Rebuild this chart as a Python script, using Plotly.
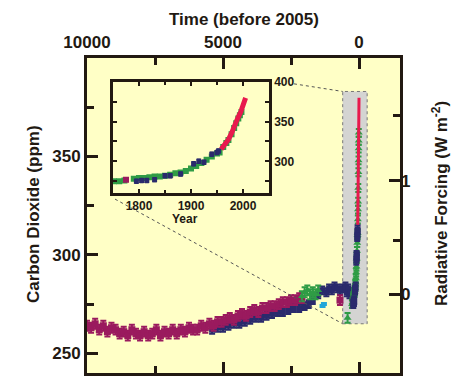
import math
import plotly.graph_objects as go

# ---------------- data ----------------
# Main panel: CO2 (ppm) against years before 2005
magenta_bp = [10000, 9850, 9700, 9550, 9400, 9250, 9100, 8950, 8800, 8650, 8500, 8350,
              8200, 8050, 7900, 7750, 7600, 7450, 7300, 7150, 7000, 6850, 6700, 6550,
              6400, 6250, 6100, 5950, 5800, 5650, 5500, 5350, 5200, 5050, 4900, 4750,
              4600, 4450, 4300, 4150, 4000, 3850, 3700, 3550, 3400, 3250, 3100, 2950,
              2800, 2650, 2500, 2350, 2200, 2100, 700]
magenta_ppm = [264, 263, 265, 262, 264, 261, 263, 262, 260, 261, 259, 262,
               260, 259, 261, 259, 260, 262, 259, 261, 260, 262, 260, 262,
               261, 263, 262, 262, 264, 263, 265, 264, 266, 266, 267, 268,
               267, 269, 270, 269, 271, 272, 271, 273, 273, 274, 274, 275,
               276, 276, 277, 277, 278, 278, 277]

navy_bp = [5400, 5200, 5000, 4800, 4600, 4400, 4200, 4000, 3800, 3600, 3400, 3200,
           3000, 2800, 2600, 2400, 2200, 2000, 1850, 1700, 1500, 1350, 1200, 1100,
           1000, 900, 800, 700, 600, 500, 450, 400, 350, 300, 260]
navy_ppm = [262, 263, 263, 264, 265, 265, 266, 267, 268, 268, 269, 270,
            271, 271, 272, 273, 273, 274, 275, 277, 280, 282, 281, 283,
            282, 284, 283, 282, 283, 284, 281, 283, 280, 281, 279]

green_bp = [2100, 2000, 1900, 1800, 1700, 1600, 1500, 420]
green_ppm = [279, 281, 282, 280, 281, 280, 282, 268]

cyan_bp = [1340, 1290]
cyan_ppm = [274, 275]

# Recent record in calendar years (inset, and the spike of the main panel)
lawdome_year = [1752, 1762, 1772, 1790, 1800, 1810, 1820, 1830, 1840, 1850, 1860, 1870,
                1880, 1890, 1900, 1910, 1920, 1930, 1940, 1950, 1955, 1962, 1968, 1972,
                1978, 1983, 1987, 1991, 1994, 1997]
lawdome_ppm = [275, 275, 276, 278, 279, 279, 280, 281, 281, 282, 283, 285,
               286, 288, 291, 294, 298, 302, 306, 310, 311, 318, 323, 327,
               334, 342, 348, 354, 358, 362]

siple_year = [1795, 1805, 1815, 1830, 1850, 1860, 1880, 1905, 1915, 1925, 1940, 1950, 1953]
siple_ppm = [275, 276, 276, 277, 282, 282, 284, 297, 300, 299, 309, 311, 313]

pink_year = [1775]
pink_ppm = [277]

mlo_year = [1958, 1960, 1962, 1964, 1966, 1968, 1970, 1972, 1974, 1976, 1978, 1980,
            1982, 1984, 1986, 1988, 1990, 1992, 1994, 1996, 1998, 2000, 2002, 2004, 2005]
mlo_ppm = [315.3, 316.9, 318.4, 319.6, 321.4, 323.0, 325.7, 327.5, 330.2, 332.1, 335.4, 338.7,
           341.1, 344.4, 347.2, 351.5, 354.4, 356.4, 358.8, 362.6, 366.7, 369.5, 373.2, 377.5, 379.8]

REF_YEAR = 2005
x_ticks_main = [10000, 5000, 0]
y_ticks_main = [250, 300, 350]
rf_major = [0, 1]
rf_minor = [0.5, 1.5]
rf_c0 = 280.0
inset_x_major = [1800, 1900, 2000]
inset_x_minor = [1850, 1950]
inset_y_major = [300, 350, 400]
inset_y_minor = [275, 325, 375]

# ---------------- style ----------------
FONT = "Liberation Sans, Arial, sans-serif"
INK = "#221912"
YELLOW = "#FFFFC6"
GRAY_IN = "#D5D3CC"
GRAY_BOX = "#D4D4D2"
C_MAG = "#9A1A5E"
C_NAVY = "#2A2A6C"
C_GREEN = "#2F9C45"
C_RED = "#E8194D"
C_CYAN = "#23A6D8"

W, H = 476, 388
L, R, T, B = 87, 76, 58, 13
XR = [10000, -1507]
YR = [240, 400]


def bp(years):
    return [REF_YEAR - y for y in years]


def pxx(px):  # pixel x -> paper x
    return (px - L) / (W - L - R)


def pxy(py):  # pixel y -> paper y
    return (H - B - py) / (H - T - B)


def px_to_bp(px):
    return XR[0] + (px - L) / (W - L - R) * (XR[1] - XR[0])


def py_to_ppm(py):
    return YR[1] - (py - T) / (H - T - B) * (YR[1] - YR[0])


fig = go.Figure()


def main_markers(x, y, color, symbol, size, err):
    fig.add_trace(go.Scatter(
        x=x, y=y, mode="markers", xaxis="x", yaxis="y",
        marker=dict(color=color, symbol=symbol, size=size, line=dict(width=0)),
        error_y=dict(type="constant", value=err, color=color, thickness=2, width=3),
        hoverinfo="skip"))


main_markers(cyan_bp, cyan_ppm, C_CYAN, "circle", 4, 0.5)
main_markers(navy_bp, navy_ppm, C_NAVY, "square", 6, 2)
main_markers(magenta_bp, magenta_ppm, C_MAG, "square", 7, 2.5)
main_markers(bp(pink_year), pink_ppm, C_MAG, "square", 5, 1)
main_markers(green_bp, green_ppm, C_GREEN, "triangle-up", 7, 2.5)
main_markers(bp(lawdome_year), lawdome_ppm, C_GREEN, "triangle-up", 7, 2)
main_markers(bp(siple_year), siple_ppm, C_NAVY, "square", 6, 2)
fig.add_trace(go.Scatter(x=bp(mlo_year), y=mlo_ppm, mode="lines", xaxis="x", yaxis="y",
                         line=dict(color=C_RED, width=3), hoverinfo="skip"))

# dummy trace to create the right radiative-forcing axis
fig.add_trace(go.Scatter(x=[None], y=[None], xaxis="x", yaxis="y2", showlegend=False))


def inset_markers(x, y, color, symbol, size, err):
    fig.add_trace(go.Scatter(
        x=x, y=y, mode="markers", xaxis="x3", yaxis="y3",
        marker=dict(color=color, symbol=symbol, size=size, line=dict(width=0)),
        error_y=dict(type="constant", value=err, color=color, thickness=1.5, width=2,
                     visible=err > 0),
        hoverinfo="skip"))


inset_markers(lawdome_year, lawdome_ppm, C_GREEN, "square", 6, 0)
inset_markers(siple_year, siple_ppm, C_NAVY, "square", 5, 2.5)
inset_markers(pink_year, pink_ppm, C_MAG, "square", 6, 0)
fig.add_trace(go.Scatter(x=mlo_year, y=mlo_ppm, mode="lines", xaxis="x3", yaxis="y3",
                         line=dict(color=C_RED, width=5), hoverinfo="skip"))

tickfont = dict(family=FONT, size=17, color=INK, weight="bold")
smallfont = dict(family=FONT, size=12, color=INK, weight="bold")

rf_major_ppm = [rf_c0 * math.exp(r / 5.35) for r in rf_major]
rf_minor_ppm = [rf_c0 * math.exp(r / 5.35) for r in rf_minor]

inset_dom_x = [pxx(113), pxx(269)]
inset_dom_y = [pxy(194), pxy(82)]

fig.update_layout(
    width=W, height=H,
    margin=dict(l=L, r=R, t=T, b=B),
    paper_bgcolor="white", plot_bgcolor=YELLOW,
    showlegend=False,
    xaxis=dict(domain=[0, 1], anchor="y", range=XR, side="top",
               tickmode="array", tickvals=x_ticks_main, ticktext=[str(v) for v in x_ticks_main],
               ticks="inside", ticklen=11, tickwidth=3, tickcolor=INK,
               minor=dict(dtick=2500, tick0=0, ticks="inside", ticklen=7, tickwidth=3, tickcolor=INK),
               showline=True, linewidth=3, linecolor=INK, mirror="ticks",
               showgrid=False, zeroline=False, tickfont=tickfont),
    yaxis=dict(domain=[0, 1], anchor="x", range=YR,
               tickmode="array", tickvals=y_ticks_main, ticktext=[str(v) for v in y_ticks_main],
               ticks="inside", ticklen=11, tickwidth=3, tickcolor=INK,
               minor=dict(dtick=25, tick0=250, ticks="inside", ticklen=7, tickwidth=3, tickcolor=INK),
               showline=True, linewidth=3, linecolor=INK, mirror=True,
               showgrid=False, zeroline=False, tickfont=tickfont),
    yaxis2=dict(overlaying="y", anchor="x", side="right", range=YR,
                tickmode="array", tickvals=rf_major_ppm, ticktext=[str(v) for v in rf_major],
                ticks="inside", ticklen=11, tickwidth=3, tickcolor=INK,
                minor=dict(tickmode="array", tickvals=rf_minor_ppm, ticks="inside", ticklen=7,
                           tickwidth=3, tickcolor=INK),
                showline=False, showgrid=False, zeroline=False, tickfont=tickfont),
    xaxis3=dict(domain=inset_dom_x, anchor="y3", range=[1750, 2050],
                tickmode="array", tickvals=inset_x_major, ticktext=[str(v) for v in inset_x_major],
                ticks="inside", ticklen=4, tickwidth=2, tickcolor=INK,
                minor=dict(tickmode="array", tickvals=inset_x_minor, ticks="inside", ticklen=3,
                           tickwidth=2, tickcolor=INK),
                showline=True, linewidth=2.5, linecolor=INK, mirror="ticks",
                showgrid=False, zeroline=False, tickfont=smallfont),
    yaxis3=dict(domain=inset_dom_y, anchor="x3", range=[260, 400], side="right",
                tickmode="array", tickvals=inset_y_major, ticktext=[str(v) for v in inset_y_major],
                ticks="inside", ticklen=4, tickwidth=2, tickcolor=INK,
                minor=dict(tickmode="array", tickvals=inset_y_minor, ticks="inside", ticklen=4,
                           tickwidth=2, tickcolor=INK),
                showline=True, linewidth=2.5, linecolor=INK, mirror="ticks",
                showgrid=False, zeroline=False, tickfont=smallfont),
)

# grey highlight box in main panel (last ~250 years)
box_bp = [600, -300]
box_ppm = [265, 383]
fig.add_shape(type="rect", xref="x", yref="y", layer="below",
              x0=box_bp[0], x1=box_bp[1], y0=box_ppm[0], y1=box_ppm[1],
              fillcolor=GRAY_BOX, line=dict(color="#777777", width=1, dash="dot"))
# inset background
fig.add_shape(type="rect", xref="x3 domain", yref="y3 domain", layer="below",
              x0=0, x1=1, y0=0, y1=1, fillcolor=GRAY_IN, line=dict(width=0))

# dotted connector lines
fig.add_shape(type="line", xref="x", yref="y", layer="above",
              x0=px_to_bp(294), y0=py_to_ppm(84), x1=box_bp[0], y1=box_ppm[1],
              line=dict(color="#555555", width=1, dash="dot"))
fig.add_shape(type="line", xref="x", yref="y", layer="above",
              x0=px_to_bp(115), y0=py_to_ppm(200), x1=box_bp[0], y1=box_ppm[0],
              line=dict(color="#555555", width=1, dash="dot"))

titlefont = dict(family=FONT, size=17, color=INK, weight="bold")
fig.add_annotation(text="Time (before 2005)", xref="paper", yref="paper",
                   x=pxx(243.5), y=pxy(19), showarrow=False, font=titlefont,
                   xanchor="center", yanchor="middle")
fig.add_annotation(text="Carbon Dioxide (ppm)", xref="paper", yref="paper",
                   x=pxx(33), y=pxy(215), showarrow=False, font=titlefont, textangle=-90,
                   xanchor="center", yanchor="middle")
fig.add_annotation(text="Radiative Forcing (W m<sup>-2</sup>)", xref="paper", yref="paper",
                   x=pxx(440), y=pxy(205), showarrow=False, font=titlefont, textangle=-90,
                   xanchor="center", yanchor="middle")
fig.add_annotation(text="Year", xref="paper", yref="paper",
                   x=pxx(184.5), y=pxy(220), showarrow=False, font=smallfont,
                   xanchor="center", yanchor="middle")

fig.write_html("out.html", config={"displayModeBar": False},
               post_script="document.body.style.margin='0';")
